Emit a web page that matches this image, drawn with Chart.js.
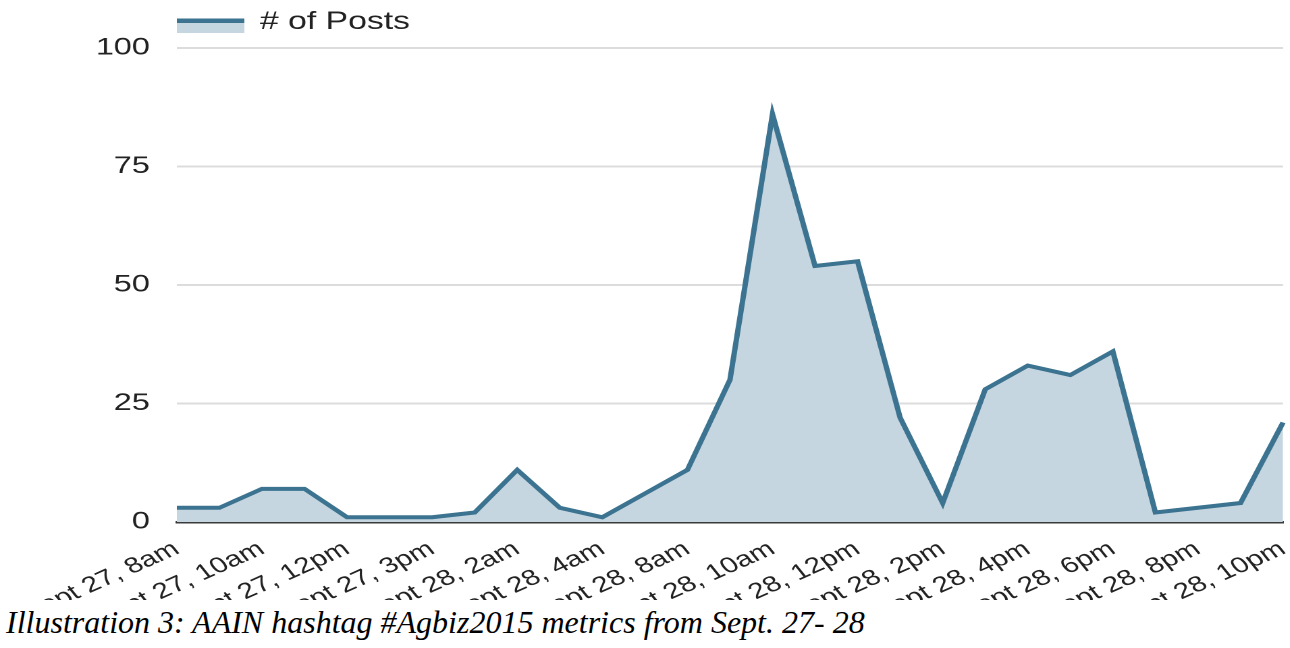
<!DOCTYPE html>
<html>
<head>
<meta charset="utf-8">
<script src="https://cdn.jsdelivr.net/npm/chart.js@4"></script>
<style>
  html, body { margin: 0; padding: 0; background: #fff; overflow: hidden; }
  #wrap { position: relative; width: 1290px; height: 648px; overflow: hidden; background: #fff; }
  /* the chart is laid out narrow and widened horizontally */
  #stage { position: absolute; left: 0; top: 0; width: 956px; height: 648px; transform: scaleX(1.35); transform-origin: 0 0; }
  #caption {
    position: absolute; left: 0; top: 600px; width: 1290px; height: 48px; background: #fff;
    font-family: "Liberation Serif", "Times New Roman", serif; font-style: italic;
    font-size: 32px; line-height: 44px; padding-left: 6px; color: #000; white-space: nowrap;
  }
</style>
</head>
<body>
<div id="wrap">
  <div id="stage"><canvas id="c"></canvas></div>
  <div id="caption">Illustration 3: AAIN hashtag #Agbiz2015 metrics from Sept. 27- 28</div>
</div>
<script>
// Hourly buckets with activity over the two days
const hours = [
  'Sept 27, 8am', 'Sept 27, 9am', 'Sept 27, 10am', 'Sept 27, 11am', 'Sept 27, 12pm',
  'Sept 27, 1pm', 'Sept 27, 3pm', 'Sept 27, 9pm', 'Sept 28, 2am', 'Sept 28, 3am',
  'Sept 28, 4am', 'Sept 28, 7am', 'Sept 28, 8am', 'Sept 28, 9am', 'Sept 28, 10am',
  'Sept 28, 11am', 'Sept 28, 12pm', 'Sept 28, 1pm', 'Sept 28, 2pm', 'Sept 28, 3pm',
  'Sept 28, 4pm', 'Sept 28, 5pm', 'Sept 28, 6pm', 'Sept 28, 7pm', 'Sept 28, 8pm',
  'Sept 28, 9pm', 'Sept 28, 10pm'
];

// Number of posts per bucket
const posts = [3, 3, 7, 7, 1, 1, 1, 2, 11, 3, 1, 6, 11, 30, 86, 54, 55, 22, 4, 28, 33, 31, 36, 2, 3, 4, 21];

// Value axis ticks
const yTicks = [0, 25, 50, 75, 100];

const seriesName = '# of Posts';
const lineColor = '#3b7390';
const areaColor = '#c6d6e0';

// Key drawn above the plot, starting at the plot's left edge
const postsKey = {
  id: 'postsKey',
  afterDraw(chart) {
    const ctx = chart.ctx;
    const ds = chart.data.datasets[0];
    const x = chart.chartArea.left;
    ctx.save();
    ctx.fillStyle = ds.backgroundColor;
    ctx.fillRect(x, 22, 50, 11);
    ctx.fillStyle = ds.borderColor;
    ctx.fillRect(x, 18.5, 50, 4.5);
    ctx.font = '25px "Liberation Sans", Arial, sans-serif';
    ctx.fillStyle = '#222';
    ctx.textBaseline = 'alphabetic';
    ctx.textAlign = 'left';
    ctx.fillText(ds.label, x + 61.5, 29);
    ctx.restore();
  }
};

new Chart(document.getElementById('c'), {
  type: 'line',
  data: {
    labels: hours,
    datasets: [{
      label: seriesName,
      data: posts,
      borderColor: lineColor,
      backgroundColor: areaColor,
      borderWidth: 4,
      fill: 'origin',
      tension: 0,
      pointRadius: 0,
      pointHoverRadius: 0,
      borderJoinStyle: 'miter'
    }]
  },
  plugins: [postsKey],
  options: {
    responsive: true,
    maintainAspectRatio: false,
    devicePixelRatio: 2,
    animation: false,
    layout: { padding: { top: 48, right: 5.6, bottom: 0, left: 0 } },
    plugins: {
      legend: { display: false },
      tooltip: { enabled: false }
    },
    scales: {
      x: {
        type: 'category',
        offset: false,
        grid: { display: false, drawTicks: false },
        border: { display: true, color: '#3a3a3a', width: 2.5 },
        ticks: {
          autoSkip: false,
          minRotation: 31,
          maxRotation: 31,
          padding: 14,
          color: '#222',
          font: { family: '"Liberation Sans", Arial, sans-serif', size: 22 },
          callback: (v, i) => (i % 2 === 0 ? hours[i] : '')
        },
        afterFit(scale) {
          scale.paddingLeft = 0;
          scale.paddingRight = 0;
          scale.height = 126;
        }
      },
      y: {
        min: yTicks[0],
        max: yTicks[yTicks.length - 1],
        afterBuildTicks(scale) {
          scale.ticks = yTicks.map(v => ({ value: v }));
        },
        grid: { color: '#dcdcdc', lineWidth: 2, drawTicks: false },
        border: { display: false },
        ticks: {
          padding: 20,
          color: '#222',
          font: { family: '"Liberation Sans", Arial, sans-serif', size: 24 }
        },
        afterFit(scale) {
          scale.width = 131;
        }
      }
    }
  }
});
</script>
</body>
</html>
